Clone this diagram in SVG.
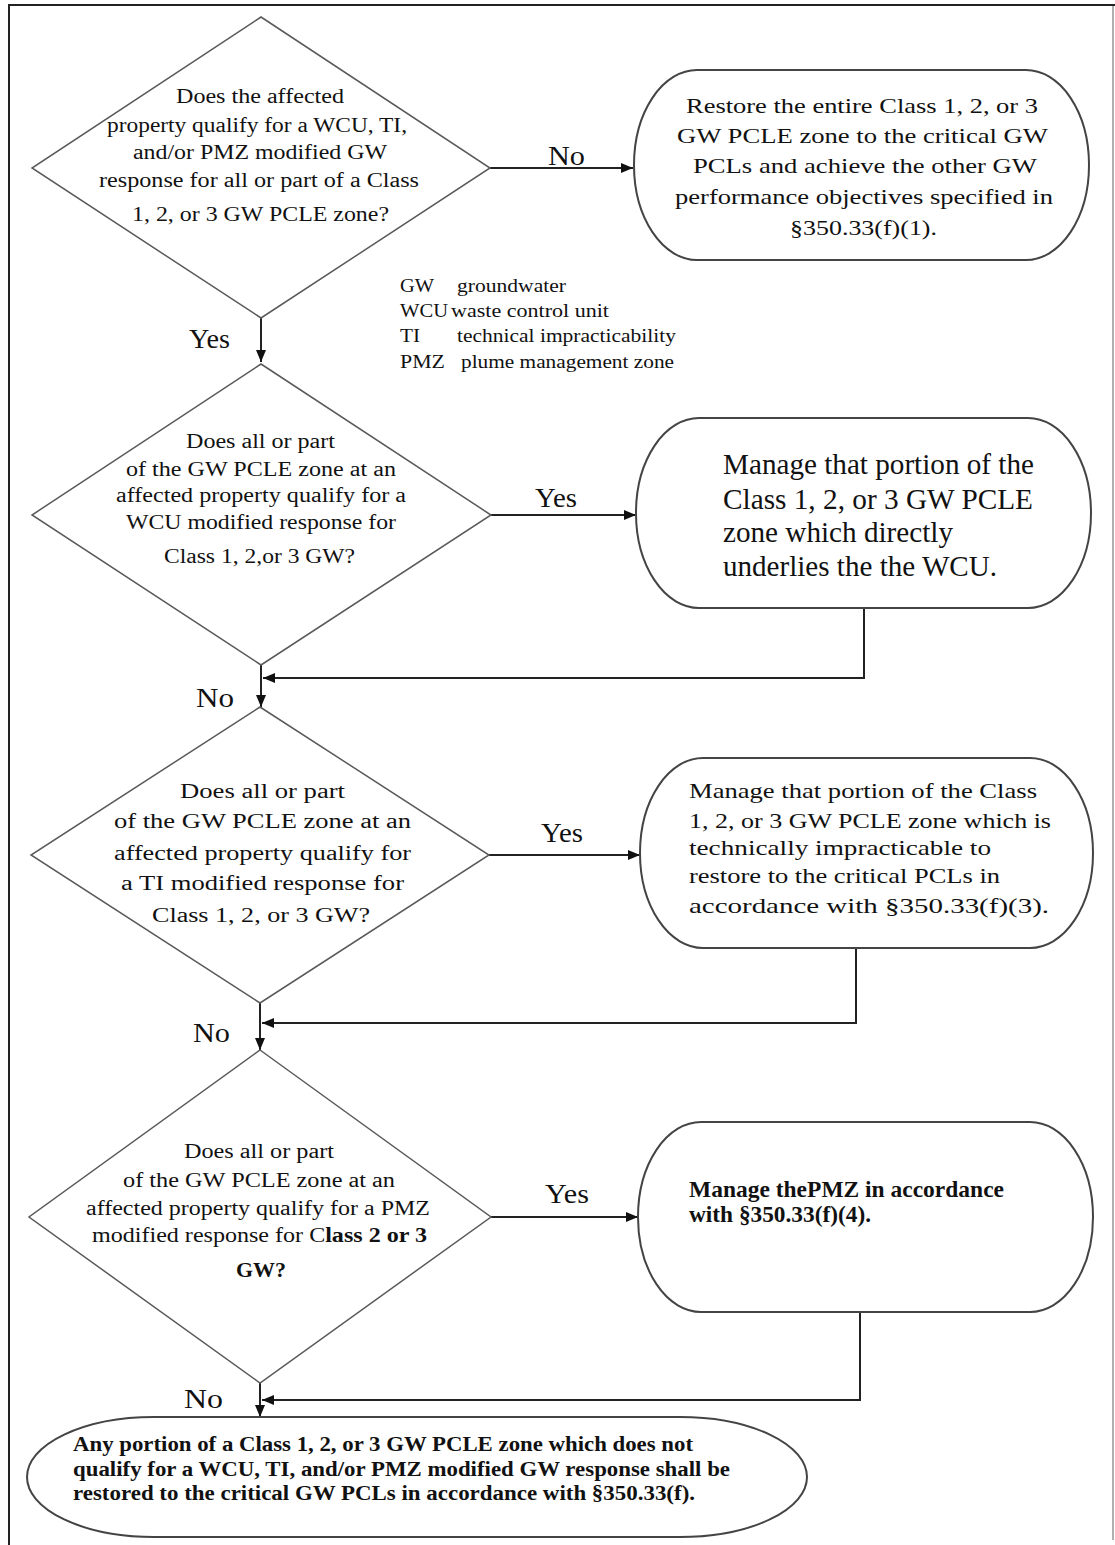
<svg xmlns="http://www.w3.org/2000/svg" width="1115" height="1545" viewBox="0 0 1115 1545">
<style>
  .bg { fill: #ffffff; }
  .frame { fill: none; stroke: #222; stroke-width: 2; }
  .frame2 { fill: none; stroke: #b0b0b0; stroke-width: 2; }
  .dia { fill: #ffffff; stroke: #5a5a5a; stroke-width: 1.5; }
  .box { fill: #ffffff; stroke: #444; stroke-width: 2; }
  .conn { fill: none; stroke: #222; stroke-width: 2; }
  .t { font-family: "Liberation Serif", "Times New Roman", serif; fill: #111; }
  .q { font-size: 20px; }
  .b1 { font-size: 21px; }
  .b2 { font-size: 29px; }
  .b3 { font-size: 21px; }
  .bold { font-weight: bold; }
  .b4 { font-size: 23px; font-weight: bold; }
  .b5 { font-size: 20px; font-weight: bold; }
  .lg { font-size: 19px; }
  .lbl { font-size: 27px; }
</style>
<defs>
  <marker id="arr" markerUnits="userSpaceOnUse" markerWidth="12" markerHeight="10" refX="12" refY="5" orient="auto">
    <path d="M0,0 L12,5 L0,10 z" fill="#111"/>
  </marker>
</defs>
<rect class="bg" x="0" y="0" width="1115" height="1545"/>
<g id="frame">
  <path class="frame" d="M9,1545 V5 H1115"/>
  <path class="frame2" d="M1113,6 V1540"/>
</g>

<g id="connectors">
  <path class="conn" d="M490,168 H633" marker-end="url(#arr)"/>
  <path class="conn" d="M261,318 V362" marker-end="url(#arr)"/>
  <path class="conn" d="M491,515 H636" marker-end="url(#arr)"/>
  <path class="conn" d="M864,608 V678 H263" marker-end="url(#arr)"/>
  <path class="conn" d="M261,665 V707" marker-end="url(#arr)"/>
  <path class="conn" d="M489,855 H640" marker-end="url(#arr)"/>
  <path class="conn" d="M856,948 V1023 H262" marker-end="url(#arr)"/>
  <path class="conn" d="M260,1003 V1050" marker-end="url(#arr)"/>
  <path class="conn" d="M491,1217 H638" marker-end="url(#arr)"/>
  <path class="conn" d="M860,1312 V1400 H262" marker-end="url(#arr)"/>
  <path class="conn" d="M260,1383 V1417" marker-end="url(#arr)"/>
  <g id="labels" class="t lbl">
    <text x="548" y="165" textLength="37" lengthAdjust="spacingAndGlyphs">No</text>
    <text x="189" y="348" textLength="41" lengthAdjust="spacingAndGlyphs">Yes</text>
    <text x="535" y="507" textLength="42" lengthAdjust="spacingAndGlyphs">Yes</text>
    <text x="196" y="707" textLength="38" lengthAdjust="spacingAndGlyphs">No</text>
    <text x="541" y="842" textLength="42" lengthAdjust="spacingAndGlyphs">Yes</text>
    <text x="193" y="1042" textLength="37" lengthAdjust="spacingAndGlyphs">No</text>
    <text x="545" y="1203" textLength="44" lengthAdjust="spacingAndGlyphs">Yes</text>
    <text x="184" y="1408" textLength="39" lengthAdjust="spacingAndGlyphs">No</text>
  </g>
</g>

<g id="q1">
  <polygon class="dia" points="261,17 490,168 261,318 32,168"/>
  <g class="t q">
    <text x="176" y="103" textLength="168" lengthAdjust="spacingAndGlyphs">Does the affected</text>
    <text x="107" y="132" textLength="300" lengthAdjust="spacingAndGlyphs">property qualify for a WCU, TI,</text>
    <text x="133" y="159" textLength="254" lengthAdjust="spacingAndGlyphs">and/or PMZ modified GW</text>
    <text x="99" y="187" textLength="320" lengthAdjust="spacingAndGlyphs">response for all or part of a Class</text>
    <text x="132" y="221" textLength="257" lengthAdjust="spacingAndGlyphs">1, 2, or 3 GW PCLE zone?</text>
  </g>
</g>

<g id="r1">
  <rect class="box" x="634" y="70" width="455" height="190" rx="63" ry="95"/>
  <g class="t b1">
    <text x="686" y="113" textLength="352" lengthAdjust="spacingAndGlyphs">Restore the entire Class 1, 2, or 3</text>
    <text x="677" y="143" textLength="371" lengthAdjust="spacingAndGlyphs">GW PCLE zone to the critical GW</text>
    <text x="693" y="173" textLength="344" lengthAdjust="spacingAndGlyphs">PCLs and achieve the other GW</text>
    <text x="675" y="204" textLength="378" lengthAdjust="spacingAndGlyphs">performance objectives specified in</text>
    <text x="790" y="235" textLength="147" lengthAdjust="spacingAndGlyphs">§350.33(f)(1).</text>
  </g>
</g>

<g id="legend" class="t lg">
  <text x="400" y="292" textLength="34" lengthAdjust="spacingAndGlyphs">GW</text>
  <text x="457" y="292" textLength="109" lengthAdjust="spacingAndGlyphs">groundwater</text>
  <text x="400" y="317" textLength="48" lengthAdjust="spacingAndGlyphs">WCU</text>
  <text x="451" y="317" textLength="158" lengthAdjust="spacingAndGlyphs">waste control unit</text>
  <text x="400" y="342" textLength="20" lengthAdjust="spacingAndGlyphs">TI</text>
  <text x="457" y="342" textLength="219" lengthAdjust="spacingAndGlyphs">technical impracticability</text>
  <text x="400" y="368" textLength="45" lengthAdjust="spacingAndGlyphs">PMZ</text>
  <text x="461" y="368" textLength="213" lengthAdjust="spacingAndGlyphs">plume management zone</text>
</g>

<g id="q2">
  <polygon class="dia" points="261,364 491,515 261,665 32,515"/>
  <g class="t q">
    <text x="186" y="448" textLength="149" lengthAdjust="spacingAndGlyphs">Does all or part</text>
    <text x="126" y="476" textLength="270" lengthAdjust="spacingAndGlyphs">of the GW PCLE zone at an</text>
    <text x="116" y="502" textLength="290" lengthAdjust="spacingAndGlyphs">affected property qualify for a</text>
    <text x="126" y="529" textLength="270" lengthAdjust="spacingAndGlyphs">WCU modified response for</text>
    <text x="164" y="563" textLength="191" lengthAdjust="spacingAndGlyphs">Class 1, 2,or 3 GW?</text>
  </g>
</g>

<g id="r2">
  <rect class="box" x="636" y="418" width="455" height="190" rx="63" ry="95"/>
  <g class="t b2">
    <text x="723" y="474" textLength="311" lengthAdjust="spacingAndGlyphs">Manage that portion of the</text>
    <text x="723" y="509" textLength="310" lengthAdjust="spacingAndGlyphs">Class 1, 2, or 3 GW PCLE</text>
    <text x="723" y="542" textLength="230" lengthAdjust="spacingAndGlyphs">zone which directly</text>
    <text x="723" y="576" textLength="274" lengthAdjust="spacingAndGlyphs">underlies the the WCU.</text>
  </g>
</g>

<g id="q3">
  <polygon class="dia" points="260,707 489,855 260,1003 31,855"/>
  <g class="t q">
    <text x="180" y="798" textLength="165" lengthAdjust="spacingAndGlyphs">Does all or part</text>
    <text x="114" y="828" textLength="297" lengthAdjust="spacingAndGlyphs">of the GW PCLE zone at an</text>
    <text x="114" y="860" textLength="297" lengthAdjust="spacingAndGlyphs">affected property qualify for</text>
    <text x="121" y="890" textLength="283" lengthAdjust="spacingAndGlyphs">a TI modified response for</text>
    <text x="152" y="922" textLength="218" lengthAdjust="spacingAndGlyphs">Class 1, 2, or 3 GW?</text>
  </g>
</g>

<g id="r3">
  <rect class="box" x="640" y="758" width="453" height="190" rx="63" ry="95"/>
  <g class="t b3">
    <text x="689" y="798" textLength="348" lengthAdjust="spacingAndGlyphs">Manage that portion of the Class</text>
    <text x="689" y="828" textLength="362" lengthAdjust="spacingAndGlyphs">1, 2, or 3 GW PCLE zone which is</text>
    <text x="689" y="855" textLength="302" lengthAdjust="spacingAndGlyphs">technically impracticable to</text>
    <text x="689" y="883" textLength="311" lengthAdjust="spacingAndGlyphs">restore to the critical PCLs in</text>
    <text x="689" y="913" textLength="360" lengthAdjust="spacingAndGlyphs">accordance with §350.33(f)(3).</text>
  </g>
</g>

<g id="q4">
  <polygon class="dia" points="260,1050 491,1217 260,1383 29,1217"/>
  <g class="t q">
    <text x="184" y="1158" textLength="150" lengthAdjust="spacingAndGlyphs">Does all or part</text>
    <text x="123" y="1187" textLength="272" lengthAdjust="spacingAndGlyphs">of the GW PCLE zone at an</text>
    <text x="86" y="1215" textLength="344" lengthAdjust="spacingAndGlyphs">affected property qualify for a PMZ</text>
    <text x="92" y="1242" textLength="335" lengthAdjust="spacingAndGlyphs">modified response for C<tspan class="bold">lass 2 or 3</tspan></text>
    <text x="236" y="1277" class="bold" textLength="50" lengthAdjust="spacingAndGlyphs">GW?</text>
  </g>
</g>

<g id="r4">
  <rect class="box" x="638" y="1122" width="455" height="190" rx="63" ry="95"/>
  <g class="t b4">
    <text x="689" y="1197" textLength="315" lengthAdjust="spacingAndGlyphs">Manage thePMZ in accordance</text>
    <text x="689" y="1222" textLength="182" lengthAdjust="spacingAndGlyphs">with §350.33(f)(4).</text>
  </g>
</g>

<g id="end">
  <rect class="box" x="27" y="1417" width="780" height="120" rx="127" ry="60"/>
  <g class="t b5">
    <text x="73" y="1451" textLength="620" lengthAdjust="spacingAndGlyphs">Any portion of a Class 1, 2, or 3 GW PCLE zone which does not</text>
    <text x="73" y="1476" textLength="657" lengthAdjust="spacingAndGlyphs">qualify for a WCU, TI, and/or PMZ modified GW response shall be</text>
    <text x="73" y="1500" textLength="622" lengthAdjust="spacingAndGlyphs">restored to the critical GW PCLs in accordance with §350.33(f).</text>
  </g>
</g>
</svg>
